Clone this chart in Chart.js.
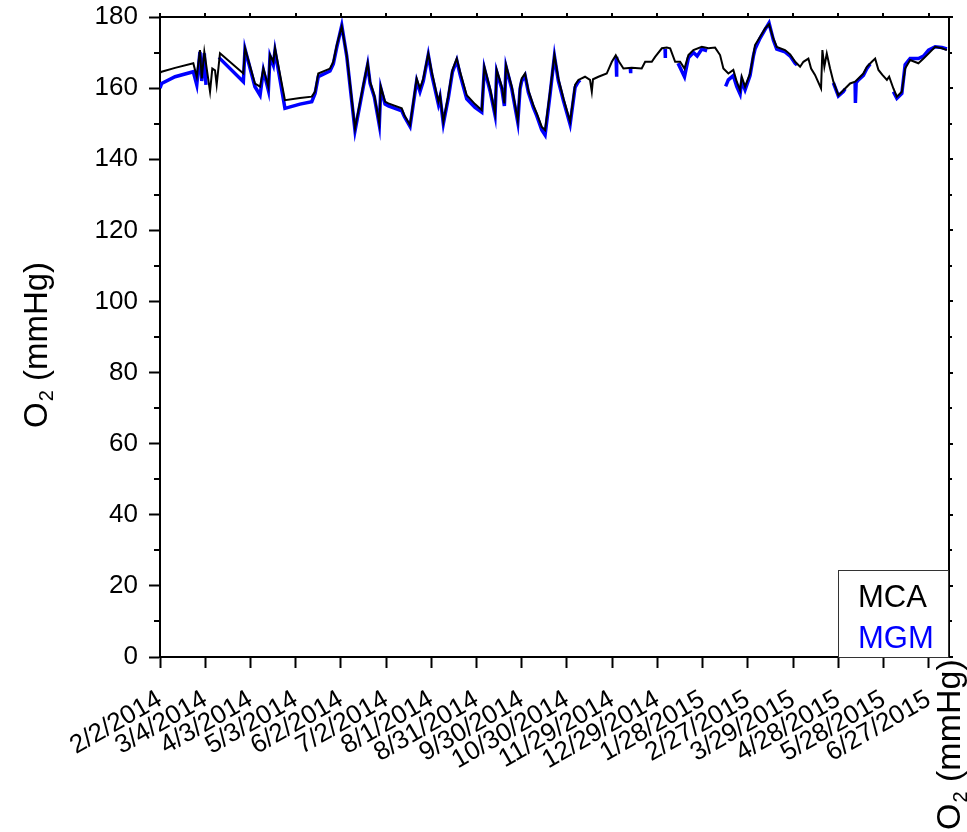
<!DOCTYPE html>
<html>
<head>
<meta charset="utf-8">
<script src="https://cdn.jsdelivr.net/npm/chart.js@4/dist/chart.umd.min.js"></script>
<style>
  body { margin: 0; background: #fff; }
</style>
</head>
<body>
<canvas id="o2Chart" width="967" height="832"></canvas>
<script>
// days since 2/2/2014
var xTickDays = [0, 30, 60, 90, 120, 150, 180, 210, 240, 270, 300, 330, 360, 390, 420, 450, 480, 510];
var xTickLabels = ['2/2/2014', '3/4/2014', '4/3/2014', '5/3/2014', '6/2/2014', '7/2/2014', '8/1/2014',
    '8/31/2014', '9/30/2014', '10/30/2014', '11/29/2014', '12/29/2014', '1/28/2015', '2/27/2015',
    '3/29/2015', '4/28/2015', '5/28/2015', '6/27/2015'];

var mcaDay = [0, 1.1, 10.0, 22.1, 24.4, 26.5, 27.7, 29.4, 33.2, 34.7,
    36.5, 37.6, 39.8, 55.3, 56.4, 63.0, 66.4, 68.6, 71.9, 73.0,
    75.2, 76.3, 82.9, 92.9, 100.7, 102.9, 105.0, 112.8, 115.0, 117.3,
    120.6, 123.9, 129.4, 134.9, 137.8, 139.4, 142.2, 145.5, 146.5, 149.3,
    151.5, 160.4, 162.1, 165.9, 170.3, 172.5, 174.7, 178.0, 180.3, 184.7,
    185.8, 188.0, 191.3, 194.0, 196.9, 199.1, 203.5, 209.0, 213.5, 215.2,
    219.0, 222.3, 223.4, 226.8, 228.5, 229.6, 233.4, 237.4, 238.9, 240.0,
    242.2, 244.4, 247.7, 250.0, 253.3, 255.5, 258.8, 261.7, 264.3, 267.7,
    272.1, 275.4, 277.6, 282.0, 285.3, 286.5, 287.3, 290.9, 296.4, 299.8,
    302.4, 304.6, 307.5, 313.0, 319.6, 321.9, 326.3, 328.5, 333.0, 336.3,
    338.5, 341.8, 345.1, 348.0, 350.6, 353.9, 359.5, 363.9, 368.3, 371.6,
    373.8, 377.1, 380.4, 382.7, 384.9, 386.0, 388.2, 391.5, 393.7, 394.8,
    398.1, 401.5, 404.1, 407.0, 409.2, 414.7, 418.1, 421.4, 424.7, 426.9,
    430.2, 432.0, 434.6, 438.6, 439.5, 440.8, 442.4, 444.6, 446.8, 450.1,
    453.4, 457.9, 461.2, 463.4, 466.7, 469.0, 472.3, 474.5, 476.7, 479.3,
    482.3, 483.8, 486.6, 488.9, 492.2, 494.4, 497.7, 503.2, 506.6, 509.9,
    514.3, 518.8, 522.1];
var mcaO2 = [164.3, 164.6, 165.7, 167.0, 163.2, 170.7, 162.7, 170.2, 159.0, 165.5,
    165.0, 160.9, 169.8, 164.1, 171.2, 161.3, 160.4, 165.5, 160.4, 169.3,
    167.4, 171.2, 156.6, 157.2, 157.6, 159.0, 164.1, 165.5, 167.4, 172.1,
    177.3, 169.3, 148.7, 160.9, 167.0, 161.8, 158.0, 150.1, 160.4, 156.2,
    155.7, 154.3, 152.4, 149.6, 162.7, 159.9, 162.7, 169.7, 164.6, 156.2,
    158.0, 150.6, 158.0, 165.1, 168.3, 164.6, 158.0, 155.5, 153.8, 166.0,
    159.9, 152.9, 165.1, 160.4, 155.7, 166.5, 160.4, 151.0, 160.4, 162.7,
    164.1, 159.4, 155.2, 152.9, 149.1, 148.2, 159.0, 169.3, 162.7, 157.1,
    150.6, 160.9, 162.3, 163.2, 162.3, 159.0, 162.5, 163.2, 164.1, 167.4,
    169.2, 167.4, 165.5, 165.7, 165.5, 167.4, 167.4, 168.8, 171.2, 171.4,
    171.2, 167.4, 167.4, 165.5, 169.3, 170.7, 171.6, 171.2, 171.4, 169.3,
    165.5, 164.1, 165.1, 161.8, 159.4, 163.2, 160.4, 164.1, 169.3, 172.1,
    174.4, 176.8, 178.0, 173.9, 171.6, 170.7, 169.5, 167.4, 166.0, 167.4,
    168.3, 165.5, 163.7, 159.9, 170.7, 166.0, 169.7, 165.5, 161.8, 158.0,
    159.4, 161.3, 161.8, 162.7, 164.1, 166.0, 167.4, 168.3, 165.1, 163.7,
    162.3, 163.2, 159.9, 157.6, 159.0, 165.5, 167.9, 167.0, 168.3, 169.7,
    171.6, 171.2, 170.7];

// MGM has missing stretches (null)
var mgmDay = [0, 1.1, 10.0, 22.1, 24.4, 26.5, 27.7, 29.4, 30.5, 32.0,
    39.1, 39.8, 55.3, 56.4, 63.0, 66.4, 68.6, 71.9, 73.0, 75.2,
    76.3, 82.9, 92.9, 100.7, 102.9, 105.0, 112.8, 115.0, 117.3, 120.6,
    123.9, 129.4, 134.9, 137.8, 139.4, 142.2, 145.5, 146.5, 149.3, 151.5,
    160.4, 162.1, 165.9, 170.3, 172.5, 174.7, 178.0, 180.3, 184.7, 185.8,
    188.0, 191.3, 194.0, 196.9, 199.1, 203.5, 209.0, 213.5, 215.2, 219.0,
    222.3, 223.4, 226.8, 228.5, 229.6, 233.4, 237.4, 238.9, 240.0, 242.2,
    244.4, 247.7, 250.0, 253.3, 255.5, 258.8, 261.7, 264.3, 267.7, 272.1,
    275.4, 277.6, 278.7, 280.0, 302.6, 303.0, 303.5, 312.0, 312.3, 312.8,
    335.1, 335.3, 335.6, 343.7, 348.0, 350.6, 353.9, 356.4, 359.5, 363.0,
    364.0, 375.3, 377.1, 380.4, 382.7, 384.9, 386.0, 388.2, 391.5, 393.7,
    394.8, 398.1, 401.5, 404.1, 407.0, 409.2, 414.7, 418.1, 421.4, 422.7,
    423.5, 446.8, 450.1, 453.4, 454.6, 455.5, 461.2, 461.4, 461.9, 463.4,
    466.7, 469.0, 471.2, 472.0, 486.6, 488.9, 492.2, 494.4, 497.7, 503.2,
    506.6, 509.9, 514.3, 518.8, 522.1];
var mgmO2 = [160.0, 161.3, 163.2, 164.6, 160.9, 170.2, 162.0, 169.8, 160.9, null,
    168.0, 168.3, 161.8, 171.0, 160.4, 158.0, 165.0, 159.4, 169.0, 166.5,
    170.5, 154.3, 155.5, 156.2, 158.5, 163.2, 164.8, 166.8, 171.5, 177.6,
    169.0, 148.0, 160.4, 166.6, 161.3, 157.5, 149.6, 160.0, 155.5, 155.0,
    153.6, 152.0, 149.2, 162.0, 159.0, 162.0, 169.4, 163.8, 155.5, 157.5,
    150.0, 157.2, 164.5, 167.8, 163.8, 157.0, 154.6, 153.2, 165.5, 159.2,
    152.4, 164.6, 159.8, 155.0, 166.0, 159.8, 150.4, 159.8, 162.0, 163.6,
    158.8, 154.6, 152.2, 148.2, 146.8, 158.2, 169.0, 162.0, 156.4, 149.8,
    160.2, 161.8, 162.3, null, 168.8, 163.2, null, 165.8, 164.2, null,
    171.0, 168.5, null, 167.0, 163.2, 168.5, 170.0, 169.0, 171.0, 170.5,
    null, 160.5, 162.3, 163.5, 160.4, 158.3, 162.0, 159.5, 163.5, 169.0,
    171.0, 174.0, 176.5, 178.3, 173.5, 171.0, 170.2, 169.0, 167.0, 166.5,
    null, 161.5, 157.8, 159.0, 159.8, null, 161.5, 155.8, 161.5, 162.3,
    163.6, 165.5, 166.8, null, 159.0, 157.1, 158.5, 166.6, 168.3, 168.3,
    169.0, 170.7, 171.6, 171.4, 171.0];

var FONT = '"Liberation Sans", Arial, sans-serif';

function toPoints(days, vals) {
    var pts = [];
    for (var i = 0; i < days.length; i++) {
        pts.push({x: days[i], y: vals[i]});
    }
    return pts;
}

// O2 (mmHg) with subscript, rotated to read bottom to top
function drawO2Title(ctx, cx, startY, size) {
    ctx.save();
    ctx.translate(cx, startY);
    ctx.rotate(-Math.PI / 2);
    ctx.fillStyle = '#000';
    ctx.textAlign = 'left';
    ctx.textBaseline = 'alphabetic';
    var by = size * 0.36;
    var px = 0;
    ctx.font = size + 'px ' + FONT;
    ctx.fillText('O', px, by);
    px += ctx.measureText('O').width + 1;
    ctx.font = Math.round(size * 0.6) + 'px ' + FONT;
    ctx.fillText('2', px, by + size * 0.2);
    px += ctx.measureText('2').width;
    ctx.font = size + 'px ' + FONT;
    ctx.fillText(' (mmHg)', px, by);
    ctx.restore();
}

var framePlugin = {
    id: 'frame',
    afterDraw: function(chart) {
        var ctx = chart.ctx;
        var a = chart.chartArea;
        var xs = chart.scales.x;
        var ys = chart.scales.y;
        ctx.save();
        ctx.strokeStyle = '#000';
        ctx.lineWidth = 2;
        ctx.beginPath();
        ctx.moveTo(a.left, a.top);
        ctx.lineTo(a.right, a.top);
        ctx.lineTo(a.right, a.bottom);
        ctx.stroke();

        ctx.beginPath();
        for (var v = 0; v <= 180; v += 10) {
            var py = Math.round(ys.getPixelForValue(v));
            if (v % 20 !== 0) {
                ctx.moveTo(a.left - 6, py);
                ctx.lineTo(a.left, py);
            }
            ctx.moveTo(a.right, py);
            ctx.lineTo(a.right + (v % 20 === 0 ? 4 : 3), py);
        }
        xTickDays.forEach(function(d) {
            var px = Math.round(xs.getPixelForValue(d));
            ctx.moveTo(px, a.top);
            ctx.lineTo(px, a.top - 4);
        });
        ctx.stroke();

        // legend box in lower right corner
        var boxR = a.right - 1, boxB = a.bottom, boxL = boxR - 110, boxT = boxB - 87;
        ctx.lineWidth = 1;
        ctx.strokeStyle = '#333';
        ctx.fillStyle = '#fff';
        ctx.fillRect(boxL, boxT, boxR - boxL, boxB - boxT);
        ctx.strokeRect(boxL + 0.5, boxT + 0.5, boxR - boxL, boxB - boxT);
        ctx.font = '31px ' + FONT;
        ctx.textAlign = 'left';
        ctx.textBaseline = 'alphabetic';
        chart.data.datasets.forEach(function(ds, i) {
            ctx.fillStyle = ds.borderColor;
            ctx.fillText(ds.label, boxL + 20, boxT + 37 + i * 41);
        });
        ctx.restore();

        drawO2Title(ctx, 35, 428, 33);
        drawO2Title(ctx, 948, 830, 34);
    }
};

var config = {
    type: 'line',
    data: {
        datasets: [
            {
                label: 'MCA',
                data: toPoints(mcaDay, mcaO2),
                borderColor: '#000000',
                borderWidth: 2,
                pointRadius: 0,
                tension: 0,
                spanGaps: false
            },
            {
                label: 'MGM',
                data: toPoints(mgmDay, mgmO2),
                borderColor: '#0000ff',
                borderWidth: 3.5,
                pointRadius: 0,
                tension: 0,
                spanGaps: false
            }
        ]
    },
    options: {
        responsive: false,
        animation: false,
        devicePixelRatio: 1,
        layout: {
            padding: {top: 17, right: 18, left: 0, bottom: 0}
        },
        plugins: {
            legend: {display: false},
            tooltip: {enabled: false}
        },
        scales: {
            x: {
                type: 'linear',
                min: 0,
                max: 523.5,
                afterBuildTicks: function(scale) {
                    scale.ticks = xTickDays.map(function(d) { return {value: d}; });
                },
                afterFit: function(scale) {
                    scale.height = 175;
                    scale.paddingRight = 0;
                },
                grid: {
                    drawOnChartArea: false,
                    drawTicks: true,
                    tickLength: 11,
                    tickWidth: 2,
                    tickColor: '#000'
                },
                border: {display: true, color: '#000', width: 2},
                ticks: {
                    autoSkip: false,
                    maxRotation: 30,
                    minRotation: 30,
                    padding: 16,
                    color: '#000',
                    font: {family: FONT, size: 26},
                    callback: function(value) {
                        var i = xTickDays.indexOf(value);
                        return i >= 0 ? xTickLabels[i] : '';
                    }
                }
            },
            y: {
                min: 0,
                max: 180,
                afterFit: function(scale) {
                    scale.width = 160;
                    scale.paddingTop = 0;
                    scale.paddingBottom = 0;
                },
                grid: {
                    drawOnChartArea: false,
                    drawTicks: true,
                    tickLength: 11,
                    tickWidth: 2,
                    tickColor: '#000'
                },
                border: {display: true, color: '#000', width: 2},
                ticks: {
                    stepSize: 20,
                    padding: 11,
                    color: '#000',
                    font: {family: FONT, size: 26}
                }
            }
        }
    },
    plugins: [framePlugin]
};

var myChart = new Chart(document.getElementById('o2Chart'), config);
</script>
</body>
</html>
